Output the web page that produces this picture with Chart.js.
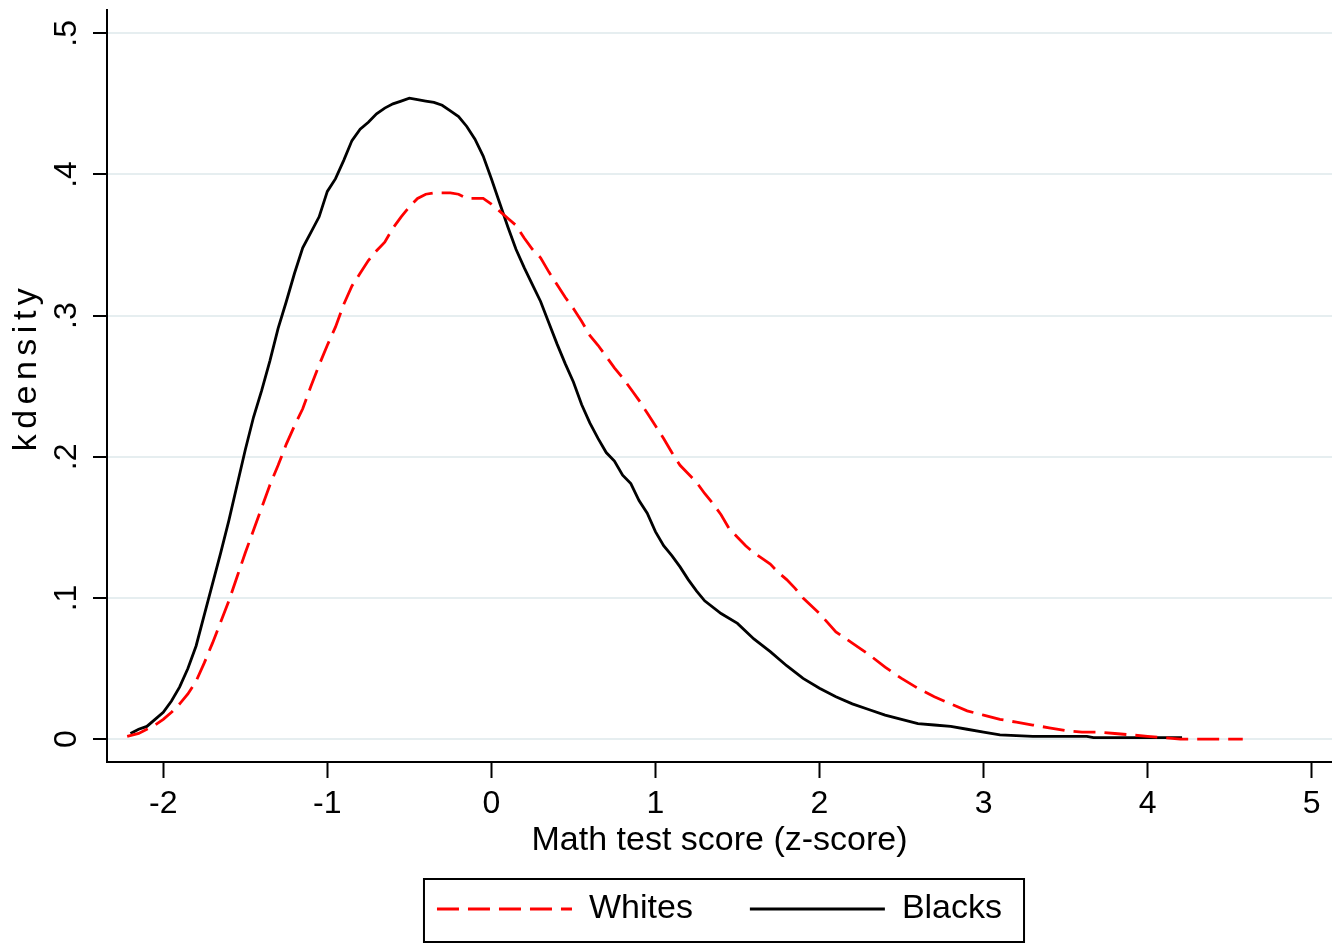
<!DOCTYPE html>
<html>
<head>
<meta charset="utf-8">
<title>kdensity</title>
<script src="https://cdn.jsdelivr.net/npm/chart.js@4.4.1/dist/chart.umd.min.js"></script>
<style>
    html, body { margin: 0; padding: 0; background: #fff; }
    canvas { display: block; }
</style>
</head>
<body>
<canvas id="myChart" width="1332" height="943"></canvas>
<script>
const xTicks = [-2, -1, 0, 1, 2, 3, 4, 5];
const yTicks = [0, 0.1, 0.2, 0.3, 0.4, 0.5];
const seriesNames = ['Whites', 'Blacks'];

// kdensity of math z-score
const whitesX = [-2.22, -2.15, -2.10, -2.05, -2.00, -1.95, -1.90, -1.85, -1.80, -1.75,
    -1.70, -1.65, -1.60, -1.55, -1.50, -1.45, -1.40, -1.35, -1.30, -1.25,
    -1.20, -1.15, -1.10, -1.05, -1.00, -0.95, -0.90, -0.85, -0.80, -0.75,
    -0.70, -0.65, -0.60, -0.55, -0.50, -0.45, -0.40, -0.35, -0.30, -0.25,
    -0.20, -0.15, -0.10, -0.05, 0.00, 0.05, 0.10, 0.15, 0.20, 0.25,
    0.30, 0.35, 0.40, 0.45, 0.50, 0.55, 0.60, 0.65, 0.70, 0.75,
    0.80, 0.85, 0.90, 0.95, 1.00, 1.05, 1.10, 1.15, 1.20, 1.25,
    1.30, 1.35, 1.40, 1.45, 1.50, 1.55, 1.60, 1.65, 1.70, 1.75,
    1.80, 1.85, 1.90, 2.00, 2.10, 2.20, 2.30, 2.40, 2.50, 2.60,
    2.70, 2.80, 2.90, 3.00, 3.10, 3.20, 3.30, 3.40, 3.50, 3.60,
    3.70, 3.80, 3.90, 4.00, 4.10, 4.20, 4.40, 4.58];
const whitesY = [0.002, 0.004, 0.007, 0.010, 0.014, 0.019, 0.025, 0.032, 0.041, 0.054,
    0.068, 0.083, 0.098, 0.115, 0.132, 0.148, 0.164, 0.180, 0.194, 0.209,
    0.222, 0.234, 0.250, 0.265, 0.279, 0.292, 0.308, 0.321, 0.330, 0.339,
    0.346, 0.352, 0.362, 0.370, 0.377, 0.383, 0.386, 0.387, 0.387, 0.387,
    0.386, 0.383, 0.383, 0.383, 0.379, 0.374, 0.369, 0.364, 0.355, 0.347,
    0.341, 0.331, 0.322, 0.313, 0.305, 0.296, 0.286, 0.279, 0.271, 0.263,
    0.256, 0.248, 0.240, 0.231, 0.222, 0.213, 0.203, 0.194, 0.188, 0.182,
    0.174, 0.167, 0.159, 0.149, 0.143, 0.137, 0.132, 0.128, 0.124, 0.118,
    0.113, 0.107, 0.100, 0.089, 0.076, 0.068, 0.060, 0.051, 0.043, 0.036,
    0.030, 0.025, 0.020, 0.017, 0.014, 0.012, 0.010, 0.008, 0.006, 0.005,
    0.005, 0.004, 0.003, 0.002, 0.001, 0.000, 0.000, 0.000];

const blacksX = [-2.20, -2.15, -2.10, -2.05, -2.00, -1.95, -1.90, -1.85, -1.80, -1.75,
    -1.70, -1.65, -1.60, -1.55, -1.50, -1.45, -1.40, -1.35, -1.30, -1.25,
    -1.20, -1.15, -1.10, -1.05, -1.00, -0.95, -0.90, -0.85, -0.80, -0.75,
    -0.70, -0.65, -0.60, -0.55, -0.50, -0.45, -0.40, -0.35, -0.30, -0.25,
    -0.20, -0.15, -0.10, -0.05, 0.00, 0.05, 0.10, 0.15, 0.20, 0.25,
    0.30, 0.35, 0.40, 0.45, 0.50, 0.55, 0.60, 0.65, 0.70, 0.75,
    0.80, 0.85, 0.90, 0.95, 1.00, 1.05, 1.10, 1.15, 1.20, 1.25,
    1.30, 1.40, 1.50, 1.60, 1.70, 1.80, 1.90, 2.00, 2.10, 2.20,
    2.30, 2.40, 2.50, 2.60, 2.70, 2.80, 2.90, 3.00, 3.10, 3.30,
    3.50, 3.63, 3.67, 3.80, 4.00, 4.21];
const blacksY = [0.004, 0.007, 0.009, 0.014, 0.019, 0.027, 0.037, 0.050, 0.066, 0.088,
    0.110, 0.132, 0.155, 0.180, 0.205, 0.228, 0.247, 0.268, 0.291, 0.310,
    0.330, 0.348, 0.359, 0.370, 0.388, 0.397, 0.410, 0.424, 0.432, 0.437,
    0.443, 0.447, 0.450, 0.452, 0.454, 0.453, 0.452, 0.451, 0.449, 0.445,
    0.441, 0.434, 0.425, 0.413, 0.397, 0.380, 0.363, 0.347, 0.334, 0.322,
    0.310, 0.295, 0.280, 0.266, 0.253, 0.237, 0.224, 0.213, 0.203, 0.197,
    0.187, 0.181, 0.169, 0.160, 0.147, 0.137, 0.130, 0.122, 0.113, 0.105,
    0.098, 0.089, 0.082, 0.071, 0.062, 0.052, 0.043, 0.036, 0.030, 0.025,
    0.021, 0.017, 0.014, 0.011, 0.010, 0.009, 0.007, 0.005, 0.003, 0.002,
    0.002, 0.002, 0.001, 0.001, 0.001, 0.001];

const FONT = 'Liberation Sans, Arial, sans-serif';

function toPoints(xs, ys) {
    return xs.map((x, i) => ({ x: x, y: ys[i] }));
}

// Stata spreads the letters of the y title and sits it a little above centre
const yTitle = {
    id: 'yTitle',
    afterDraw(chart) {
        const ctx = chart.ctx;
        const area = chart.chartArea;
        ctx.save();
        ctx.translate(area.left - 71, (area.top + area.bottom) / 2 - 19);
        ctx.rotate(-Math.PI / 2);
        ctx.font = '34px ' + FONT;
        ctx.letterSpacing = '5.5px';
        ctx.fillStyle = '#000';
        ctx.textAlign = 'center';
        ctx.textBaseline = 'alphabetic';
        ctx.fillText('kdensity', 0, 0);
        ctx.restore();
    }
};

// frame round the legend
const legendBox = {
    id: 'legendBox',
    afterDraw(chart) {
        const boxes = chart.legend && chart.legend.legendHitBoxes;
        if (!boxes || !boxes.length) return;
        const first = boxes[0];
        const last = boxes[boxes.length - 1];
        const left = first.left - 13;
        const right = last.left + last.width + 22;
        const ctx = chart.ctx;
        ctx.save();
        ctx.strokeStyle = '#000';
        ctx.lineWidth = 2;
        ctx.strokeRect(left, first.top - 13, right - left, 63);
        ctx.restore();
    }
};

const ctx = document.getElementById('myChart').getContext('2d');
const myChart = new Chart(ctx, {
    type: 'line',
    data: {
        datasets: [{
            label: seriesNames[0],
            data: toPoints(whitesX, whitesY),
            borderColor: '#ff0000',
            backgroundColor: 'transparent',
            borderWidth: 2.8,
            borderDash: [22, 9],
            pointRadius: 0,
            tension: 0,
            fill: false
        }, {
            label: seriesNames[1],
            data: toPoints(blacksX, blacksY),
            borderColor: '#000000',
            backgroundColor: 'transparent',
            borderWidth: 2.8,
            pointRadius: 0,
            tension: 0,
            fill: false
        }]
    },
    options: {
        responsive: false,
        animation: false,
        devicePixelRatio: 1,
        layout: {
            padding: { top: 10, left: 0, right: 0, bottom: 7 }
        },
        scales: {
            x: {
                type: 'linear',
                min: -2.343,
                max: 5.124,
                afterBuildTicks: (scale) => {
                    scale.ticks = xTicks.map(v => ({ value: v }));
                },
                afterFit: (scale) => {
                    scale.height = 73;
                    scale.paddingLeft = 0;
                    scale.paddingRight = 0;
                },
                grid: {
                    drawOnChartArea: false,
                    drawTicks: true,
                    tickLength: 16,
                    tickWidth: 2,
                    tickColor: '#000'
                },
                border: { display: true, color: '#000', width: 2 },
                ticks: {
                    autoSkip: false,
                    maxRotation: 0,
                    padding: 7,
                    color: '#000',
                    font: { family: FONT, size: 32 },
                    callback: (v) => String(v)
                },
                title: {
                    display: true,
                    text: 'Math test score (z-score)',
                    color: '#000',
                    font: { family: FONT, size: 34 },
                    padding: { top: 0, bottom: -26 }
                }
            },
            y: {
                type: 'linear',
                min: -0.0162,
                max: 0.5165,
                afterBuildTicks: (scale) => {
                    scale.ticks = yTicks.map(v => ({ value: v }));
                },
                afterFit: (scale) => {
                    scale.width = 107;
                    scale.paddingTop = 0;
                    scale.paddingBottom = 0;
                },
                grid: {
                    color: '#e6eef0',
                    lineWidth: 2,
                    tickLength: 14,
                    tickWidth: 2,
                    tickColor: '#000'
                },
                border: { display: true, color: '#000', width: 2 },
                ticks: {
                    autoSkip: false,
                    minRotation: 90,
                    maxRotation: 90,
                    crossAlign: 'center',
                    padding: 12,
                    color: '#000',
                    font: { family: FONT, size: 32 },
                    callback: (v) => v === 0 ? '0' : String(v).replace(/^0/, '')
                }
            }
        },
        plugins: {
            legend: {
                position: 'bottom',
                fullSize: false,
                onClick: () => { null },
                labels: {
                    boxWidth: 135,
                    boxHeight: 0,
                    padding: 57,
                    color: '#000',
                    font: { family: FONT, size: 34 }
                }
            },
            tooltip: { enabled: false }
        }
    },
    plugins: [yTitle, legendBox]
});
</script>
</body>
</html>
